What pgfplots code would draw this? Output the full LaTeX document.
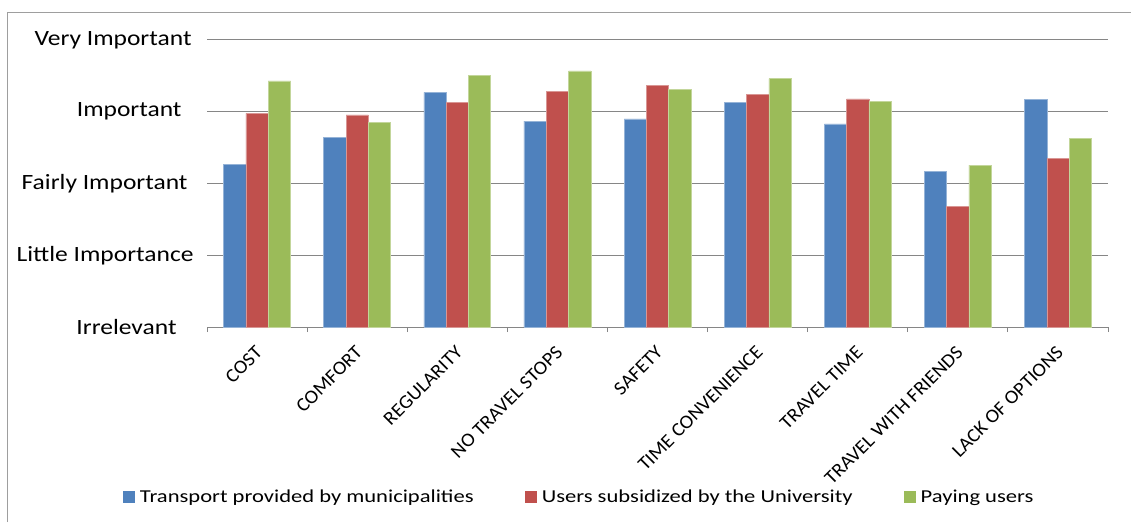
\documentclass[border=0pt]{standalone}
\usepackage{pgfplots}
\pgfplotsset{compat=1.18}
\usepackage{fontspec}
\setmainfont{Carlito}
\newfontfamily\yfont{Carlito}[FakeStretch=1.17]
\newfontfamily\legfont{Carlito}[FakeStretch=1.24]
\newfontfamily\xfont{Carlito}[FakeStretch=1.05]
\definecolor{cblue}{RGB}{79,129,189}
\definecolor{cred}{RGB}{192,80,77}
\definecolor{cgreen}{RGB}{155,187,89}
\definecolor{cgrid}{RGB}{134,134,134}
\begin{document}
\begin{tikzpicture}
\useasboundingbox (0,0) rectangle (1131pt,522pt);
\draw[cgrid!80, line width=1pt] (7pt,0) -- (7pt,509pt) -- (1131pt,509pt);
\begin{axis}[
  at={(207pt,195pt)}, anchor=south west,
  scale only axis, width=901pt, height=287pt,
  xmin=-0.5, xmax=8.5, ymin=0, ymax=4,
  ybar=0pt, bar width=22.3pt,
  axis line style={draw=none},
  ytick={0,1,2,3,4},
  yticklabels={Irrelevant\kern17pt,Little Importance,Fairly Important\kern6pt,Important\kern12pt,Very Important\kern2pt},
  ymajorgrids, grid style={cgrid, line width=1pt},
  ytick style={draw=none},
  yticklabel style={font=\yfont\fontsize{21.8}{26}\selectfont, inner sep=0pt, xshift=-9pt},
  xtick={0,...,8},
  xticklabels={COST,COMFORT,REGULARITY,NO TRAVEL STOPS,SAFETY,TIME CONVENIENCE,TRAVEL TIME,TRAVEL WITH FRIENDS,LACK OF OPTIONS},
  minor xtick={-0.5,0.5,...,8.5},
  tick align=outside, xtick pos=bottom,
  major x tick style={draw=none},
  minor x tick style={cgrid, line width=1pt},
  minor tick length=5pt,
  xticklabel style={font=\xfont\fontsize{19.3}{23}\selectfont, xshift=2pt, yshift=-18pt, rotate=45, anchor=east, inner sep=0pt},
  legend columns=3,
  legend style={at={(-0.0936,-0.5923)}, anchor=west, draw=none, inner sep=0pt,
    font=\legfont\fontsize{18.2}{22}\selectfont,
    /tikz/every odd column/.append style={column sep=2.5pt},
    /tikz/every even column/.append style={column sep=49pt}},
  legend image code/.code={\fill[#1,draw=none] (0pt,-6.3pt) rectangle (12.6pt,6.3pt);},
]
\addplot[fill=cblue, draw=cblue!60!white, line width=0.5pt] coordinates {(0,2.27) (1,2.64) (2,3.27) (3,2.87) (4,2.90) (5,3.13) (6,2.83) (7,2.17) (8,3.17)};
\addplot[fill=cred, draw=cred!60!white, line width=0.5pt] coordinates {(0,2.976) (1,2.957) (2,3.13) (3,3.28) (4,3.37) (5,3.245) (6,3.18) (7,1.68) (8,2.35)};
\addplot[fill=cgreen, draw=cgreen!60!white, line width=0.5pt] coordinates {(0,3.43) (1,2.855) (2,3.51) (3,3.57) (4,3.315) (5,3.46) (6,3.14) (7,2.255) (8,2.63)};
\legend{Transport provided by municipalities, Users subsidized by the University, Paying users}
\end{axis}
\end{tikzpicture}
\end{document}
